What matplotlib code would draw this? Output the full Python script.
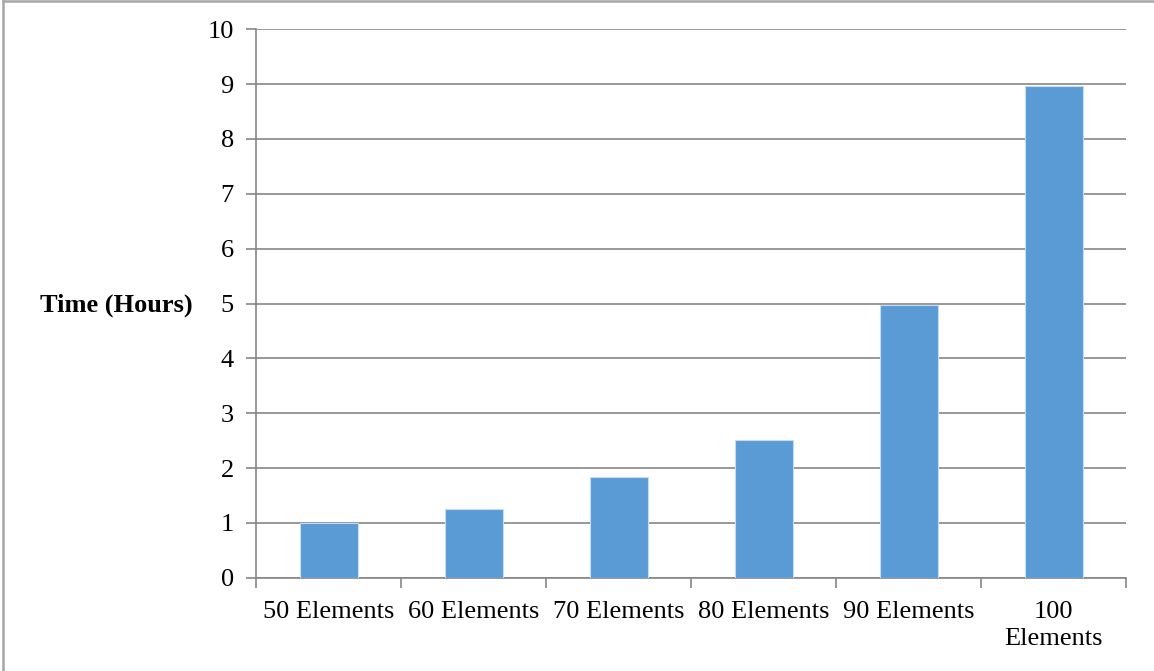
import numpy as np
import matplotlib
matplotlib.use("Agg")
import matplotlib.pyplot as plt
from matplotlib.lines import Line2D

# Datos
categorias = ["50 Elements", "60 Elements", "70 Elements", "80 Elements",
              "90 Elements", "100\nElements"]
horas = [1.0, 1.25, 1.84, 2.52, 4.97, 8.96]

plt.rcParams['font.family'] = ['Liberation Serif', 'DejaVu Serif']

AZUL = '#5b9bd5'
GRIS = '#868686'

fig = plt.figure(figsize=(11.54, 6.71), dpi=100)
ax = fig.add_axes([256 / 1154, 1 - 577.7 / 671, 870 / 1154, 548.4 / 671])

x = np.arange(len(categorias))
ax.bar(x, horas, width=0.4, color=AZUL, edgecolor='#c5dbf0', linewidth=0.8, zorder=3)

ax.set_xlim(-0.5, len(categorias) - 0.5)
ax.set_ylim(0, 10)
ax.set_yticks(range(0, 11))
ax.grid(axis='y', color=GRIS, linewidth=1.2, zorder=0)
ax.grid(axis='x', visible=False)

# marcas del eje x en los bordes de cada categoría
ax.set_xticks(x)
ax.set_xticklabels(categorias, fontsize=19, linespacing=1.3)
ax.set_xticks(np.arange(-0.5, len(categorias)), minor=True)
ax.tick_params(axis='x', which='major', length=0, pad=17)
ax.tick_params(axis='x', which='minor', length=7, width=1.2, color=GRIS, direction='out')
ax.tick_params(axis='y', length=7, width=1.2, color=GRIS, direction='out',
               labelsize=19, pad=9)

for lado in ['top', 'right']:
    ax.spines[lado].set_visible(False)
for lado in ['left', 'bottom']:
    ax.spines[lado].set_color(GRIS)
    ax.spines[lado].set_linewidth(1.2)

ax.set_ylabel('Time (Hours)', rotation=0, fontsize=19, fontweight='bold',
              ha='right', va='center')
ax.yaxis.set_label_coords(-0.0724, 0.497)

# marco exterior (solo bordes superior e izquierdo)
fig.add_artist(Line2D([2.5 / 1154, 2.5 / 1154], [0, 1 - 0.5 / 671],
                      transform=fig.transFigure, color='#a6a6a6', linewidth=1.8))
fig.add_artist(Line2D([2.5 / 1154, 1], [1 - 0.8 / 671, 1 - 0.8 / 671],
                      transform=fig.transFigure, color='#a6a6a6', linewidth=1.8))

fig.savefig('out.png', dpi=100)
